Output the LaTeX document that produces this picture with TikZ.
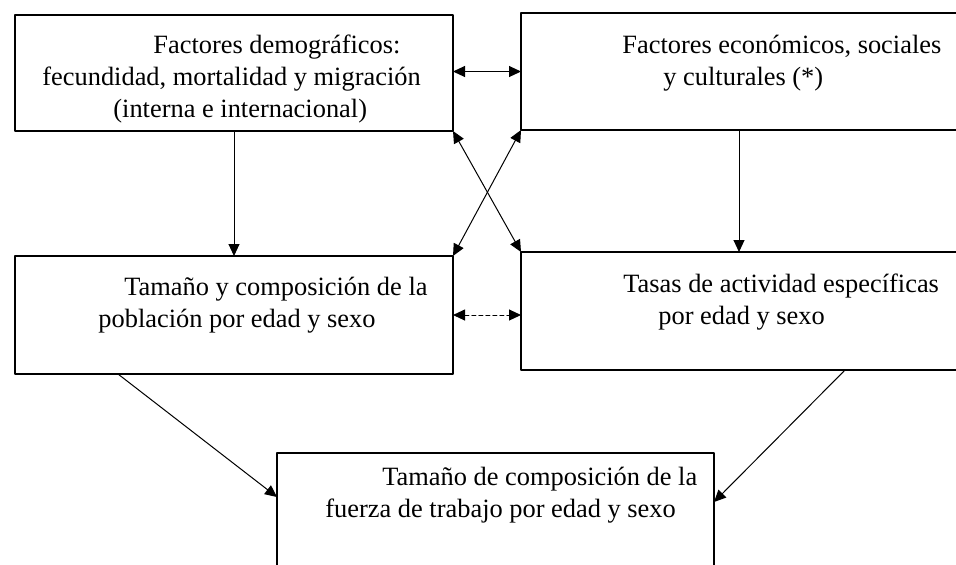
\documentclass[tikz,border=0pt]{standalone}
\usepackage{fontspec}
\setmainfont{Liberation Serif}
\usetikzlibrary{arrows.meta}

\begin{document}
\begin{tikzpicture}[line cap=round,line join=round,>={Triangle[length=6pt,width=5.5pt]},x=0.5pt,y=-0.5pt,
  caja/.style={draw,line width=1pt,outer sep=0pt,inner sep=0pt},
  texto/.style={anchor=north west,align=left,inner sep=0pt,font=\fontsize{13.2}{16}\selectfont},
  flecha/.style={line width=0.5pt}]
\useasboundingbox (0,0) rectangle (956,564);
\clip (0,0) rectangle (956,564);
% cajas
\node[caja,minimum width=219pt,minimum height=58pt] (dem) at (234,73) {};
\node[caja,minimum width=229.5pt,minimum height=58.5pt] (eco) at (750.5,71.5) {};
\node[caja,minimum width=219pt,minimum height=59pt] (pob) at (234,315) {};
\node[caja,minimum width=229.5pt,minimum height=59pt] (tas) at (750.5,311) {};
\node[caja,minimum width=218.5pt,minimum height=73.5pt] (fue) at (495.5,526.5) {};
% textos
\node[texto] (tdem) at (42,30.6) {\strut\hspace*{55.5pt}Factores demográficos:\\
  fecundidad, mortalidad y migración\\
  \hspace*{35.5pt}(interna e internacional)};
\node[texto] (teco) at (622,30.6) {\strut Factores económicos, sociales\\
  \hspace*{20.5pt}y culturales (*)};
\node[texto] (tpob) at (98,272.6) {\strut\hspace*{13pt}Tamaño y composición de la\\
  población por edad y sexo};
\node[texto] (ttas) at (623,269.6) {\strut Tasas de actividad específicas\\
  \hspace*{17.5pt}por edad y sexo};
\node[texto] (tfue) at (325,462.6) {\strut\hspace*{28.5pt}Tamaño de composición de la\\
  fuerza de trabajo por edad y sexo};
% flechas
\coordinate (xe) at (739,0);
\coordinate (xp) at (118,0);
\coordinate (xt) at (845,0);
\draw[flecha,<->] (dem.east |- eco.west) -- (eco.west);
\draw[flecha,<->] (dem.south east) -- (tas.north west);
\draw[flecha,<->] (eco.south west) -- (pob.north east);
\draw[flecha,->] (dem) -- (pob);
\draw[flecha,->] (eco.south -| xe) -- (tas.north -| xe);
\draw[flecha,<->,dash pattern=on 2pt off 1.5pt] (pob.east) -- (pob.east -| tas.west);
\draw[flecha,->] (pob.south -| xp) -- ([yshift=-22pt]fue.north west);
\draw[flecha,->] (tas.south -| xt) -- ([yshift=-24.5pt]fue.north east);
\end{tikzpicture}
\end{document}
